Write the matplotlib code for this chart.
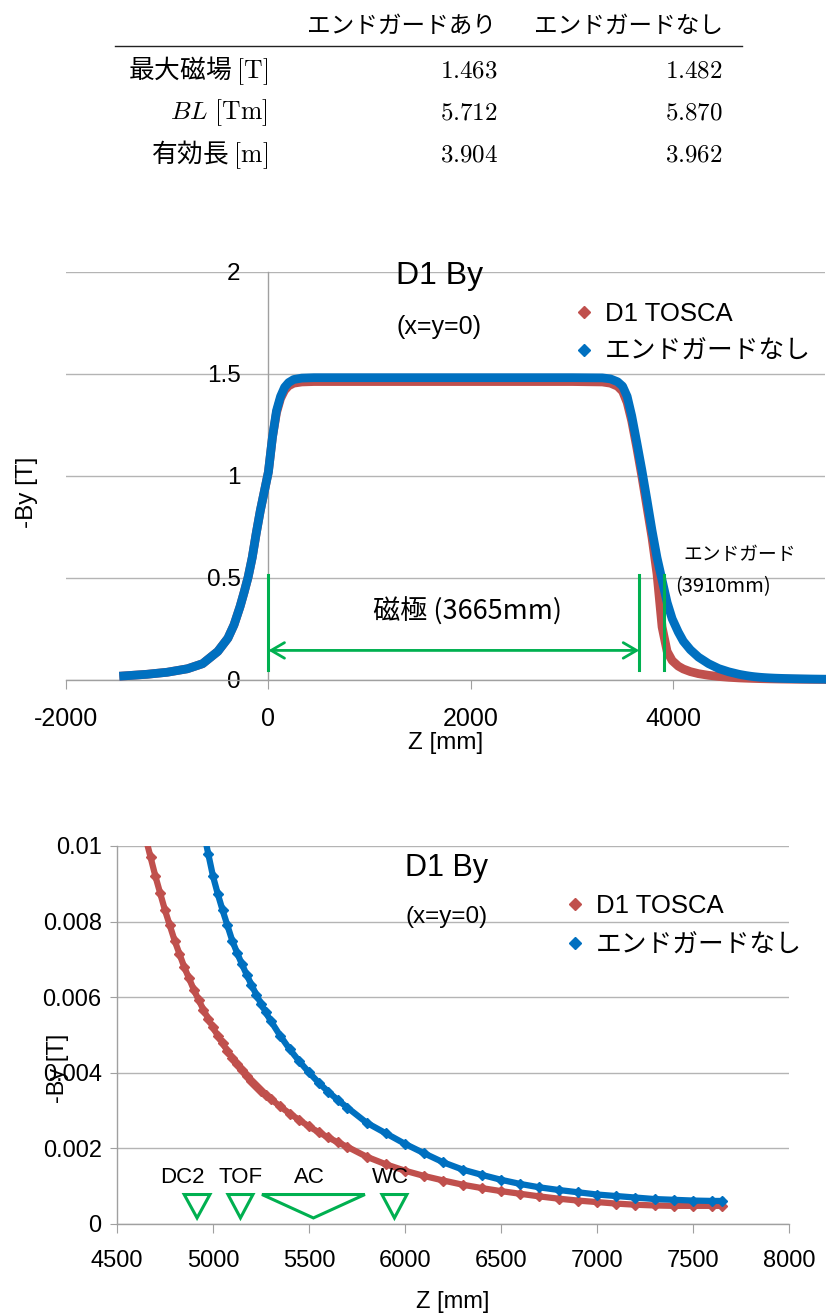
import matplotlib
matplotlib.use("Agg")
import matplotlib.pyplot as plt
from matplotlib.lines import Line2D
from matplotlib.patches import Polygon

plt.rcParams["font.family"] = ["Liberation Sans", "Noto Sans CJK JP"]
plt.rcParams["axes.unicode_minus"] = False
plt.rcParams["mathtext.fontset"] = "cm"

# ---- table data ----
table_cols = ["エンドガードあり", "エンドガードなし"]
table_rows = ["最大磁場 $\\mathrm{[T]}$", "$BL\\ \\mathrm{[Tm]}$", "有効長 $\\mathrm{[m]}$"]
with_guard = [1.463, 5.712, 3.904]
without_guard = [1.482, 5.870, 3.962]

# ---- field map data (z in mm, -By in T) ----
z_mm = [-1430, -1200, -1000, -800, -650, -500, -400, -340, -280, -240,
        -200, -160, -120, -80, -40, 0, 40, 80, 120, 160,
        200, 250, 330, 450, 1000, 1500, 2000, 2500, 3000, 3300,
        3380, 3450, 3500, 3545, 3590, 3640, 3690, 3740, 3790, 3840,
        3890, 3940, 3990, 4050, 4100, 4170, 4250, 4350, 4450, 4550,
        4650, 4675, 4700, 4725, 4750, 4775, 4800, 4825, 4850, 4875,
        4900, 4925, 4950, 4975, 5000, 5025, 5050, 5075, 5100, 5125,
        5150, 5175, 5200, 5225, 5250, 5275, 5300,
        5350, 5400, 5450, 5500, 5550, 5600, 5650, 5700,
        5800, 5900, 6000, 6100, 6200, 6300, 6400, 6500, 6600, 6700,
        6800, 6900, 7000, 7100, 7200, 7300, 7400, 7500, 7600, 7650]

by_tosca = [0.02, 0.028, 0.038, 0.055, 0.08, 0.14, 0.205, 0.27, 0.36, 0.43,
            0.505, 0.60, 0.72, 0.83, 0.925, 1.02, 1.19, 1.31, 1.38, 1.42,
            1.442, 1.455, 1.461, 1.463, 1.463, 1.463, 1.463, 1.463, 1.463, 1.461,
            1.455, 1.44, 1.415, 1.36, 1.27, 1.14, 1.0, 0.85, 0.70, 0.52,
            0.26, 0.14, 0.095, 0.068, 0.054, 0.041, 0.031, 0.023, 0.0172, 0.0132,
            0.0102, 0.0097, 0.0092, 0.00875, 0.0083, 0.0079, 0.0075, 0.00715, 0.0068, 0.0065,
            0.0062, 0.00593, 0.00567, 0.00543, 0.0052, 0.00498, 0.00478, 0.00458, 0.0044, 0.00423,
            0.00407, 0.00392, 0.00378, 0.00365, 0.00353, 0.00342, 0.00331,
            0.00311, 0.00292, 0.00275, 0.00258, 0.00243, 0.00229, 0.00216, 0.00204,
            0.00178, 0.00158, 0.00141, 0.00127, 0.00115, 0.00104, 0.00095, 0.00087, 0.0008, 0.00073,
            0.00067, 0.00062, 0.00058, 0.00054, 0.00051, 0.00049, 0.00048, 0.00048, 0.00048, 0.00048]

by_noguard = [0.02, 0.028, 0.038, 0.055, 0.08, 0.14, 0.205, 0.27, 0.36, 0.43,
              0.505, 0.60, 0.72, 0.83, 0.925, 1.02, 1.19, 1.32, 1.39, 1.435,
              1.458, 1.473, 1.480, 1.482, 1.482, 1.482, 1.482, 1.482, 1.482, 1.481,
              1.476, 1.462, 1.44, 1.39, 1.295, 1.165, 1.03, 0.885, 0.735, 0.60,
              0.49, 0.38, 0.30, 0.235, 0.19, 0.148, 0.112, 0.08, 0.056, 0.04,
              0.028, 0.0257, 0.0235, 0.0214, 0.0195, 0.0178, 0.0163, 0.015, 0.0138, 0.0128,
              0.0119, 0.0111, 0.0104, 0.0098, 0.0092, 0.00873, 0.0083, 0.0079, 0.0075, 0.00718,
              0.00688, 0.0066, 0.00633, 0.00607, 0.00583, 0.0056, 0.00538,
              0.00498, 0.00462, 0.0043, 0.00401, 0.00374, 0.0035, 0.00328, 0.00308,
              0.00268, 0.0024, 0.00212, 0.00187, 0.00163, 0.00144, 0.0013, 0.00117, 0.00106, 0.00097,
              0.0009, 0.00084, 0.00078, 0.00074, 0.0007, 0.00066, 0.00064, 0.00062, 0.00061, 0.00061]

series_labels = ["D1 TOSCA", "エンドガードなし"]

top_xticks = [-2000, 0, 2000, 4000]
top_yticks = [0, 0.5, 1, 1.5, 2]
top_yticklabels = ["0", "0.5", "1", "1.5", "2"]
bot_xticks = [4500, 5000, 5500, 6000, 6500, 7000, 7500, 8000]
bot_yticks = [0, 0.002, 0.004, 0.006, 0.008, 0.01]
bot_yticklabels = ["0", "0.002", "0.004", "0.006", "0.008", "0.01"]

pole_length = 3665
guard_pos = 3910

detectors = ["DC2", "TOF", "AC", "WC"]
det_center = [4917, 5143, 5523, 5945]
det_half = [67, 65, 268, 65]
det_label_z = [4841, 5146, 5503, 5923]

RED = "#C0504D"
BLUE = "#0070C0"
GREEN = "#00B050"
GRID = "#b4b4b4"
AXIS = "#a0a0a0"

W, H = 826, 1314
fig = plt.figure(figsize=(W / 100, H / 100), dpi=100)


def fx(px):
    return px / W


def fy(py):
    return 1 - py / H


# ---- table ----
jp = ["Noto Sans CJK JP"]
fig.text(fx(496), fy(26), table_cols[0], ha="right", va="center", fontsize=17, family=jp)
fig.text(fx(723), fy(26), table_cols[1], ha="right", va="center", fontsize=17, family=jp)
fig.add_artist(Line2D([fx(115), fx(742)], [fy(46), fy(46)], color="#222222", lw=1.0))
for i, (name, a, b) in enumerate(zip(table_rows, with_guard, without_guard)):
    yy = fy([71, 113, 155][i])
    fig.text(fx(268), yy, name, ha="right", va="center", fontsize=18.5, family=jp)
    fig.text(fx(498), yy, f"${a:.3f}$", ha="right", va="center", fontsize=18)
    fig.text(fx(723), yy, f"${b:.3f}$", ha="right", va="center", fontsize=18)


def style_axes(ax):
    for s in ("top", "right"):
        ax.spines[s].set_visible(False)
    for s in ("left", "bottom"):
        ax.spines[s].set_color(AXIS)
        ax.spines[s].set_linewidth(1.0)
    ax.yaxis.grid(True, color=GRID, lw=1.0)
    ax.set_axisbelow(True)


# ---- top chart ----
ax1 = fig.add_axes([fx(66), fy(680), fx(825) - fx(66), (680 - 272) / H])
ax1.plot(z_mm, by_tosca, color=RED, lw=6.3, clip_on=False, zorder=3)
ax1.plot(z_mm, by_noguard, color=BLUE, lw=6.3, clip_on=False, zorder=4)
ax1.set_xlim(-2000, 5500)
ax1.set_ylim(0, 2)
style_axes(ax1)
ax1.spines["left"].set_position(("data", 0))
ax1.set_xticks(top_xticks)
ax1.set_xticklabels([str(t) for t in top_xticks])
ax1.set_yticks(top_yticks)
ax1.set_yticklabels(top_yticklabels)
ax1.tick_params(axis="x", direction="out", length=6.5, color=AXIS, labelsize=18, pad=13)
ax1.tick_params(axis="y", length=0, labelsize=17.5, pad=20)

for zpos in (0, pole_length, guard_pos):
    ax1.plot([zpos, zpos], [0.05, 0.515], color=GREEN, lw=2.2, zorder=5)
ax1.annotate("", xy=(0, 0.145), xytext=(pole_length, 0.145),
             arrowprops=dict(arrowstyle="<->,head_length=0.6,head_width=0.35",
                             color=GREEN, lw=2, shrinkA=0, shrinkB=0, mutation_scale=16),
             zorder=5)
ax1.text(1966, 0.333, "磁極 (3665mm)", ha="center", va="center", fontsize=19.5, family=jp)
ax1.text(4099, 0.613, "エンドガード", ha="left", va="center", fontsize=13.5, family=jp)
ax1.text(4020, 0.456, "(3910mm)", ha="left", va="center", fontsize=14.5, family=jp)
ax1.text(1689, 1.98, "D1 By", ha="center", va="center", fontsize=23)
ax1.text(1689, 1.73, "(x=y=0)", ha="center", va="center", fontsize=18)

handles = [Line2D([], [], ls="none", marker="D", ms=6, color=c) for c in (RED, BLUE)]
ax1.legend(handles, series_labels, loc="upper left", bbox_to_anchor=(fx(561), fy(289)),
           bbox_transform=fig.transFigure, frameon=False, fontsize=18.5, borderpad=0,
           handlelength=0.8, handletextpad=0.4, labelspacing=0.55)
fig.text(fx(27), fy(492), "-By [T]", rotation=90, ha="center", va="center", fontsize=17.5)
fig.text(fx(446), fy(743), "Z [mm]", ha="center", va="center", fontsize=17.5)

# ---- bottom chart ----
ax2 = fig.add_axes([fx(117), fy(1224), fx(789) - fx(117), (1224 - 846) / H])
ax2.plot(z_mm, by_tosca, color=RED, lw=4.5, marker="D", ms=5.5, mec=RED, zorder=3)
ax2.plot(z_mm, by_noguard, color=BLUE, lw=4.5, marker="D", ms=5.5, mec=BLUE, zorder=4)
ax2.set_xlim(4500, 8000)
ax2.set_ylim(0, 0.01)
style_axes(ax2)
ax2.set_xticks(bot_xticks)
ax2.set_xticklabels([str(t) for t in bot_xticks])
ax2.set_yticks(bot_yticks)
ax2.set_yticklabels(bot_yticklabels)
ax2.tick_params(axis="x", direction="out", length=6.5, color=AXIS, labelsize=17, pad=12)
ax2.tick_params(axis="y", direction="out", length=5, color=AXIS, labelsize=17, pad=6)

for name, c, hw, lz in zip(detectors, det_center, det_half, det_label_z):
    tri = Polygon([[c - hw, 0.00078], [c + hw, 0.00078], [c, 0.00016]], closed=True,
                  fill=False, edgecolor=GREEN, lw=2.2, zorder=5)
    ax2.add_patch(tri)
    ax2.text(lz, 0.00122, name, ha="center", va="center", fontsize=16, zorder=6)

ax2.text(6214, 0.00943, "D1 By", ha="center", va="center", fontsize=22)
ax2.text(6219, 0.00813, "(x=y=0)", ha="center", va="center", fontsize=17.5)
handles2 = [Line2D([], [], ls="none", marker="D", ms=6, color=c) for c in (RED, BLUE)]
ax2.legend(handles2, series_labels, loc="upper left", bbox_to_anchor=(fx(552), fy(881)),
           bbox_transform=fig.transFigure, frameon=False, fontsize=18.5, borderpad=0,
           handlelength=0.8, handletextpad=0.4, labelspacing=0.6)
fig.text(fx(58), fy(1068), "-By [T]", rotation=90, ha="center", va="center", fontsize=17)
fig.text(fx(453), fy(1302), "Z [mm]", ha="center", va="center", fontsize=17)

fig.savefig("out.png", dpi=100)
